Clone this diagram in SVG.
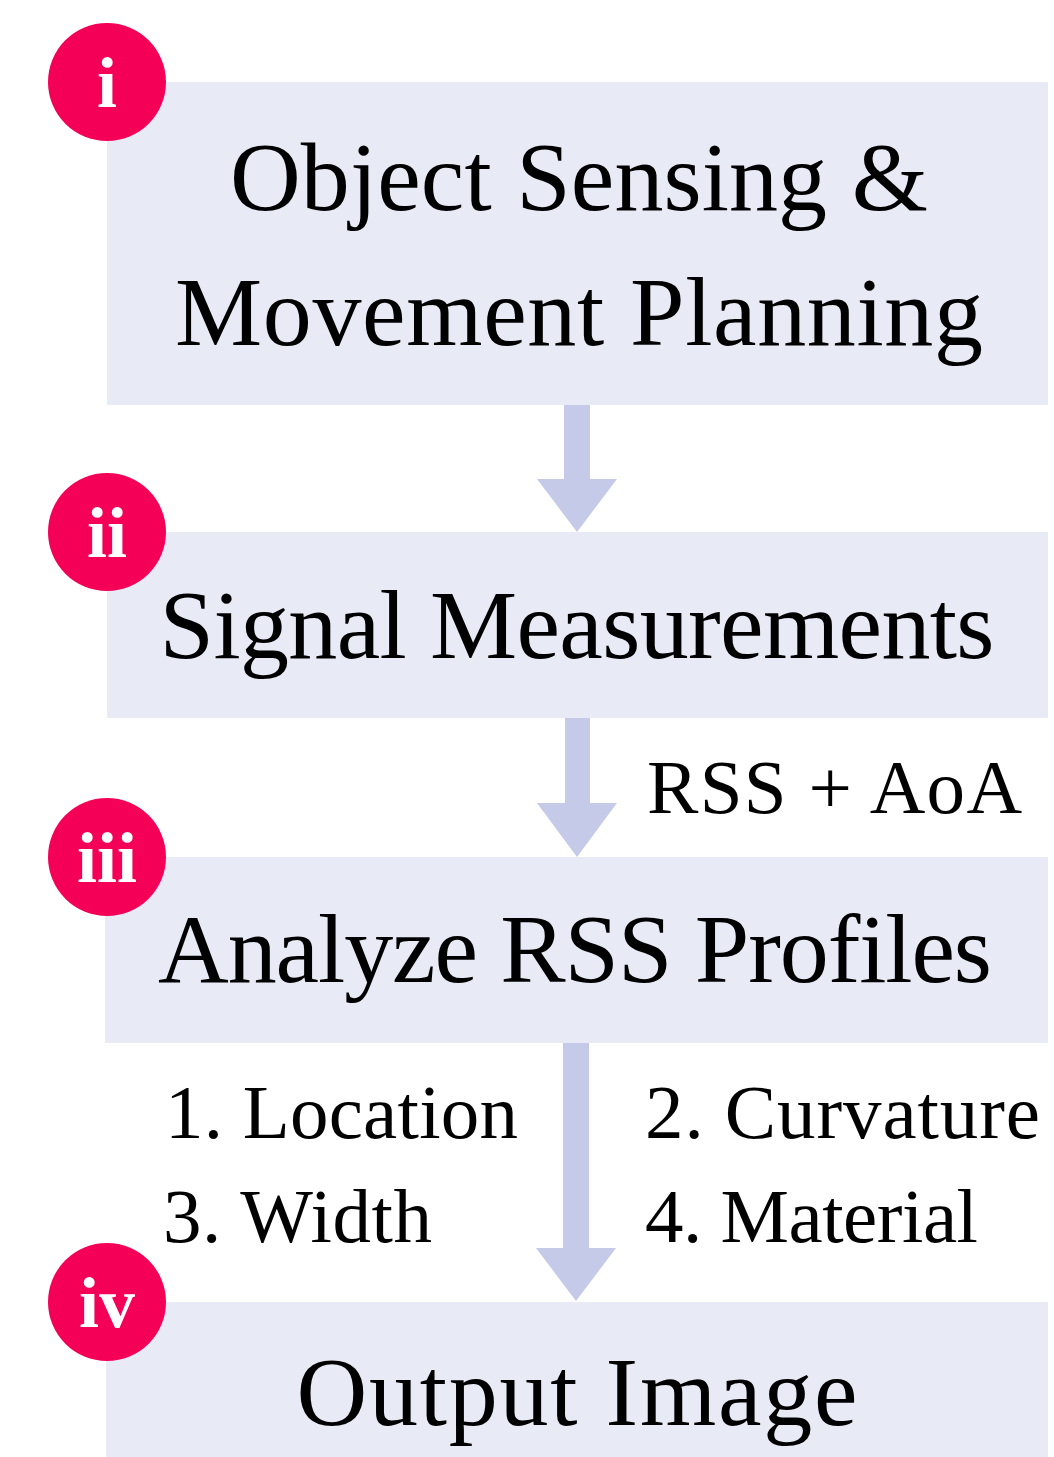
<svg xmlns="http://www.w3.org/2000/svg" width="1054" height="1457" viewBox="0 0 1054 1457">
<style>
.box{fill:#E8EAF6}
.arrow{fill:#C5CAE9}
.badge{fill:#F50057}
.num{font-family:"Liberation Serif","DejaVu Serif",serif;font-weight:bold;font-size:72px;fill:#fff;text-anchor:middle}
.main{font-family:"Liberation Serif","DejaVu Serif",serif;font-size:98px;fill:#000;text-anchor:middle}
.lab{font-family:"Liberation Serif","DejaVu Serif",serif;font-size:77px;fill:#000}
</style>
<rect width="1054" height="1457" fill="#fff"/>
<g id="connectors">
<path class="arrow" d="M564,405 H590 V479 H617 L577,532 L537,479 H564 Z"/>
<path class="arrow" d="M565,718 H590 V803 H617 L577,857 L537,803 H565 Z"/>
<path class="arrow" d="M563,1043 H589 V1248 H616 L576,1301 L536,1248 H563 Z"/>
<text class="lab" x="647" y="813" textLength="375">RSS + AoA</text>
<text class="lab" x="165" y="1138" textLength="353">1. Location</text>
<text class="lab" x="163" y="1242" textLength="269">3. Width</text>
<text class="lab" x="645" y="1138" textLength="395">2. Curvature</text>
<text class="lab" x="645" y="1242" textLength="333">4. Material</text>
</g>
<g id="node1">
<rect class="box" x="107" y="82" width="941" height="323"/>
<text class="main" x="579" y="210" textLength="698">Object Sensing &amp;</text>
<text class="main" x="579" y="345" textLength="808">Movement Planning</text>
<circle class="badge" cx="107" cy="82" r="59"/>
<text class="num" x="107" y="107">i</text>
</g>
<g id="node2">
<rect class="box" x="107" y="532" width="941" height="186"/>
<text class="main" x="577" y="658" textLength="835">Signal Measurements</text>
<circle class="badge" cx="107" cy="532" r="59"/>
<text class="num" x="107" y="557">ii</text>
</g>
<g id="node3">
<rect class="box" x="105" y="857" width="943" height="186"/>
<text class="main" x="575" y="982" textLength="834">Analyze RSS Profiles</text>
<circle class="badge" cx="107" cy="857" r="59"/>
<text class="num" x="107" y="882">iii</text>
</g>
<g id="node4">
<rect class="box" x="106" y="1302" width="942" height="155"/>
<text class="main" x="577" y="1425" textLength="561">Output Image</text>
<circle class="badge" cx="107" cy="1302" r="59"/>
<text class="num" x="107" y="1327">iv</text>
</g>
</svg>
